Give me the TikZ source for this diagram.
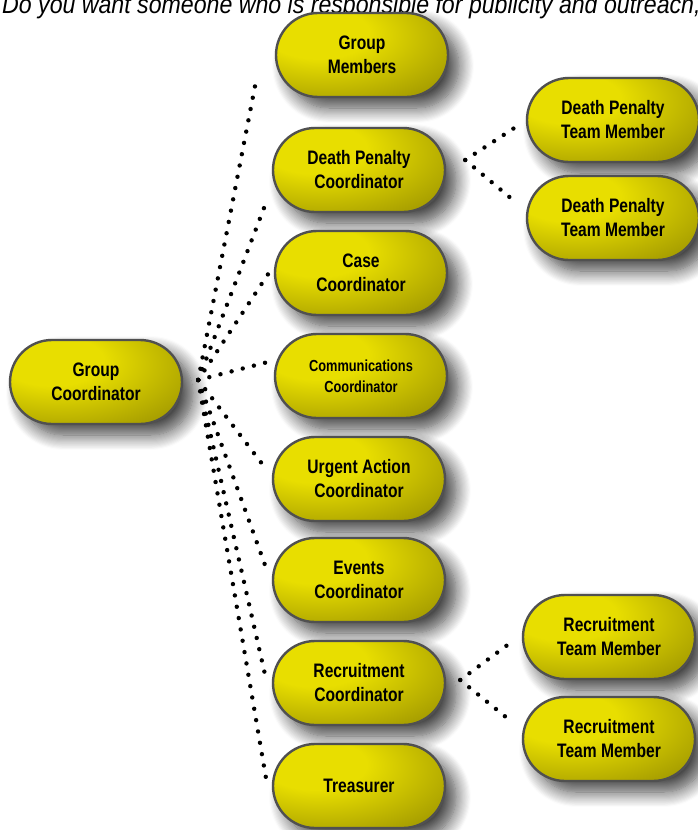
\documentclass[tikz,border=0pt]{standalone}
\usepackage{fontspec}
\newfontfamily\pillfont[FakeStretch=0.8]{Liberation Sans}
\newfontfamily\notefont[FakeStretch=0.89]{Liberation Sans}
\usetikzlibrary{shapes.misc,shadows.blur}

\definecolor{pilllight}{RGB}{232,222,0}
\definecolor{pilldark}{RGB}{118,110,0}
\definecolor{pilledge}{RGB}{80,80,80}
\pgfdeclareradialshading{pillshade}{\pgfpoint{-15bp}{15bp}}{color(0bp)=(pilllight); color(15bp)=(pilllight); color(60bp)=(pilldark); color(100bp)=(pilldark)}

\begin{document}
\begin{tikzpicture}[x=1pt, y=-1pt, node distance=103pt, align=center]

    % Styles
    \tikzstyle{pill} = [rounded rectangle, draw=pilledge, line width=2.4pt, shading=pillshade, minimum width=172pt, minimum height=84pt, inner sep=0pt, text centered, font=\pillfont\bfseries\fontsize{19.5}{24}\selectfont, blur shadow={shadow xshift=11pt, shadow yshift=-11pt, shadow blur radius=15pt, shadow blur steps=14, shadow opacity=75}]
    \tikzstyle{dotline} = [line width=4.4pt, line cap=round, dash pattern=on 0pt off 11.5pt]

    \useasboundingbox (0,0) rectangle (697,830);

    % Question at the top
    \node[anchor=base west, inner sep=0pt, font=\notefont\itshape\fontsize{26}{30}\selectfont] (question) at (2,13) {Do you want someone who is responsible for publicity and outreach,};

    % Coordinators
    \node[pill] (dpc) at (359,170) {Death Penalty\\Coordinator};
    \node[pill] (members) [above of=dpc, xshift=3pt, yshift=12pt] {Group\\Members};
    \node[pill] (case) [below of=dpc, xshift=2pt] {Case\\Coordinator};
    \node[pill, font=\pillfont\bfseries\fontsize{16}{21}\selectfont] (comms) [below of=case] {Communications\\Coordinator};
    \node[pill] (urgent) [below of=comms, xshift=-2pt] {Urgent Action\\Coordinator};
    \node[pill] (events) [below of=urgent, yshift=2pt] {Events\\Coordinator};
    \node[pill] (recruit) [below of=events] {Recruitment\\Coordinator};
    \node[pill] (treasurer) [below of=recruit] {Treasurer};

    % Group Coordinator
    \node[pill] (gc) [left of=comms, xshift=-162pt, yshift=-6pt] {Group\\Coordinator};

    % Team Members
    \node[pill] (dpt_a) [right of=dpc, xshift=151pt, yshift=50pt] {Death Penalty\\Team Member};
    \node[pill] (dpt_b) [right of=dpc, xshift=151pt, yshift=-48pt] {Death Penalty\\Team Member};
    \node[pill] (rct_a) [right of=recruit, xshift=147pt, yshift=46pt] {Recruitment\\Team Member};
    \node[pill] (rct_b) [right of=recruit, xshift=147pt, yshift=-56pt] {Recruitment\\Team Member};

    % Dotted links
    \coordinate (hub) at ([xshift=15pt, yshift=2pt]gc.east);
    \draw[dotline] (hub) -- ([xshift=-19pt, yshift=-27pt]members.west);
    \draw[dotline] (hub) -- ([xshift=-4pt, yshift=-28pt]dpc.west);
    \draw[dotline] (hub) -- ([xshift=-3pt, yshift=3pt]case.west);
    \draw[dotline] (hub) -- ([xshift=-2pt, yshift=15pt]comms.west);
    \draw[dotline] (hub) -- ([xshift=-5pt, yshift=9pt]urgent.west);
    \draw[dotline] (hub) -- ([xshift=-5pt, yshift=10pt]events.west);
    \draw[dotline] (hub) -- ([xshift=-6pt, yshift=5pt]recruit.west);
    \draw[dotline] (hub) -- ([xshift=-6pt, yshift=9pt]treasurer.west);

    \coordinate (dp_fork) at ([xshift=19pt, yshift=10pt]dpc.east);
    \draw[dotline] (dp_fork) -- ([xshift=-10pt, yshift=-7pt]dpt_a.west);
    \draw[dotline] (dp_fork) -- ([xshift=-8pt, yshift=14pt]dpt_b.west);

    \coordinate (rc_fork) at ([xshift=14pt, yshift=3pt]recruit.east);
    \draw[dotline] (rc_fork) -- ([xshift=-13pt, yshift=-7pt]rct_a.west);
    \draw[dotline] (rc_fork) -- ([xshift=-11pt, yshift=18pt]rct_b.west);

\end{tikzpicture}
\end{document}
